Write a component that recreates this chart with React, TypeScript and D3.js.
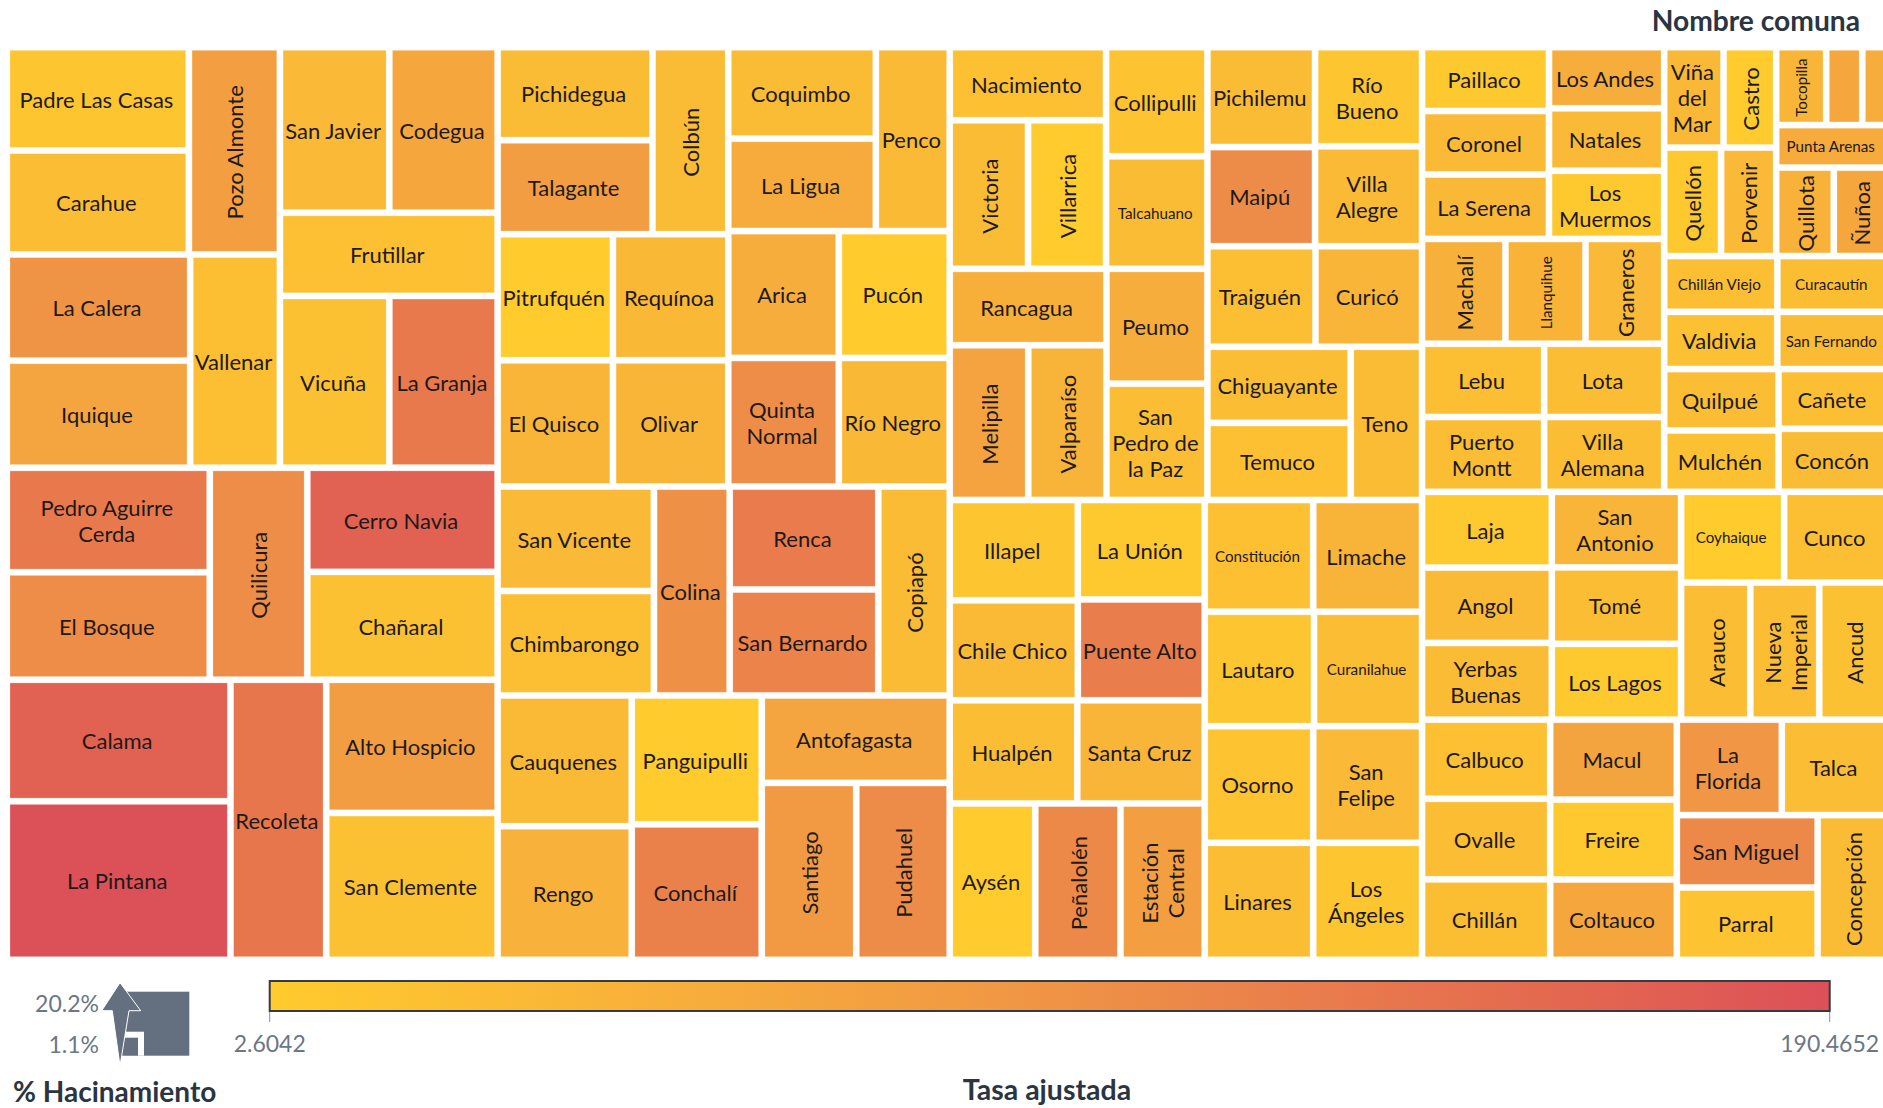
import React, { useMemo } from "react";
import * as d3 from "d3";

// Comunas, in reading order of the treemap
const comunas = [
  "Padre Las Casas","Carahue","Pozo Almonte","La Calera","Iquique","Vallenar","San Javier","Codegua","Frutillar","Vicuña","La Granja",
  "Pedro Aguirre Cerda","El Bosque","Quilicura","Cerro Navia","Chañaral","Calama","La Pintana","Recoleta","Alto Hospicio","San Clemente",
  "Pichidegua","Talagante","Colbún","Pitrufquén","Requínoa","El Quisco","Olivar","Coquimbo","La Ligua","Penco","Arica","Pucón","Quinta Normal","Río Negro",
  "San Vicente","Chimbarongo","Colina","Renca","San Bernardo","Copiapó","Cauquenes","Rengo","Panguipulli","Conchalí","Antofagasta","Santiago","Pudahuel",
  "Nacimiento","Victoria","Villarrica","Collipulli","Talcahuano","Rancagua","Melipilla","Valparaíso","Peumo","San Pedro de la Paz","Pichilemu","Maipú","Río Bueno","Villa Alegre","Traiguén","Curicó","Chiguayante","Temuco","Teno",
  "Illapel","Chile Chico","La Unión","Puente Alto","Hualpén","Santa Cruz","Aysén","Peñalolén","Estación Central","Constitución","Limache","Lautaro","Curanilahue","Osorno","San Felipe","Linares","Los Ángeles",
  "Paillaco","Coronel","La Serena","Los Andes","Natales","Los Muermos","Machalí","Llanquihue","Graneros","Lebu","Lota","Puerto Montt","Villa Alemana",
  "Viña del Mar","Castro","Quellón","Porvenir","Tocopilla","Sin etiqueta 1","Sin etiqueta 2","Punta Arenas","Quillota","Ñuñoa","Chillán Viejo","Curacautín","Valdivia","San Fernando","Quilpué","Mulchén","Cañete","Concón",
  "Laja","Angol","Yerbas Buenas","San Antonio","Tomé","Los Lagos","Coyhaique","Cunco","Arauco","Nueva Imperial","Ancud",
  "Calbuco","Ovalle","Chillán","Macul","Freire","Coltauco","La Florida","Talca","San Miguel","Parral","Concepción",
];

// Size of each comuna (relative units)
const tamano = [
  187.8,188.9,188.4,194.3,196.0,191.1,180.7,179.0,180.9,187.6,185.8,
  211.7,217.8,206.3,197.9,205.0,271.2,354.0,267.7,227.9,251.4,
  143.8,145.3,141.4,145.2,145.2,145.3,145.3,134.8,136.2,135.6,140.0,140.5,141.9,142.4,
  163.0,163.0,158.0,152.7,157.2,149.0,175.0,179.0,167.2,175.9,164.1,166.9,165.1,
  114.1,116.1,115.7,110.4,113.8,119.5,121.3,120.8,115.7,117.2,107.4,106.6,105.9,106.7,108.5,107.0,108.9,110.3,109.1,
  128.3,127.8,126.0,127.7,131.3,131.3,133.5,133.1,131.5,121.0,121.4,124.9,123.4,126.3,126.7,126.7,127.2,
  80.9,80.4,81.7,70.3,71.8,78.4,87.2,83.8,82.3,89.3,87.8,91.2,89.7,
  59.5,52.8,61.6,59.7,38.9,28.1,20.1,47.5,50.9,48.0,63.0,61.7,64.6,63.3,70.1,70.1,65.4,69.0,
  98.1,97.6,99.4,97.4,98.7,97.8,93.3,94.2,94.7,94.3,94.3,
  101.2,103.0,103.0,101.1,101.1,101.6,100.0,101.3,101.7,101.7,101.9,
];

// Tasa ajustada of each comuna
const tasa = [
  12.0,27.0,77.8,96.6,68.4,23.3,34.5,64.6,21.4,19.5,134.1,
  134.1,106.0,106.0,168.0,19.5,168.0,190.5,137.9,81.5,19.5,
  31.0,81.5,31.0,2.6,36.4,40.2,40.2,31.0,59.0,32.7,55.2,2.6,106.0,36.4,
  34.5,23.3,100.3,130.4,119.1,31.0,32.7,47.7,2.6,122.9,68.4,87.2,107.8,
  21.4,31.0,2.6,16.0,29.0,51.5,72.1,43.9,55.2,27.0,28.9,107.8,12.0,32.7,23.3,40.2,27.0,21.4,28.9,
  12.0,32.7,6.4,126.6,27.0,40.2,2.6,111.6,77.8,21.4,43.9,12.0,27.0,16.0,34.5,27.0,12.0,
  6.4,32.7,36.4,55.2,34.5,8.2,49.6,42.1,34.5,23.3,27.0,27.0,27.0,
  36.4,2.6,8.2,34.5,40.2,64.6,55.2,59.0,45.8,64.6,23.3,25.1,19.5,31.0,27.0,19.5,23.3,28.9,
  6.4,32.7,28.9,40.2,27.0,6.4,2.6,23.3,27.0,27.0,19.5,
  21.4,27.0,25.1,70.2,8.2,64.6,92.8,27.0,111.6,16.0,29.0,
];

// Nesting of the treemap: each level alternates columns and rows
const agrupacion = [
  [
    [
      [[["Padre Las Casas","Carahue"],"Pozo Almonte"],[["La Calera","Iquique"],"Vallenar"]],
      [["San Javier","Codegua"],"Frutillar",["Vicuña","La Granja"]],
    ],
    [["Pedro Aguirre Cerda","El Bosque"],"Quilicura",["Cerro Navia","Chañaral"]],
    [["Calama","La Pintana"],"Recoleta",["Alto Hospicio","San Clemente"]],
  ],
  [
    [
      [[["Pichidegua","Talagante"],"Colbún"],["Pitrufquén","Requínoa"],["El Quisco","Olivar"]],
      [[["Coquimbo","La Ligua"],"Penco"],["Arica","Pucón"],["Quinta Normal","Río Negro"]],
    ],
    [["San Vicente","Chimbarongo"],"Colina",["Renca","San Bernardo"],"Copiapó"],
    [["Cauquenes","Rengo"],["Panguipulli","Conchalí"],["Antofagasta",["Santiago","Pudahuel"]]],
  ],
  [
    [
      [
        [["Nacimiento",["Victoria","Villarrica"]],["Collipulli","Talcahuano"]],
        [["Rancagua",["Melipilla","Valparaíso"]],["Peumo","San Pedro de la Paz"]],
      ],
      [
        [["Pichilemu","Maipú"],["Río Bueno","Villa Alegre"]],
        ["Traiguén","Curicó"],
        [["Chiguayante","Temuco"],"Teno"],
      ],
    ],
    [
      [
        [["Illapel","Chile Chico"],["La Unión","Puente Alto"]],
        ["Hualpén","Santa Cruz"],
        ["Aysén","Peñalolén","Estación Central"],
      ],
      [["Constitución","Limache"],["Lautaro","Curanilahue"],["Osorno","San Felipe"],["Linares","Los Ángeles"]],
    ],
  ],
  [
    [
      [
        [["Paillaco","Coronel","La Serena"],["Los Andes","Natales","Los Muermos"]],
        ["Machalí","Llanquihue","Graneros"],
        ["Lebu","Lota"],
        ["Puerto Montt","Villa Alemana"],
      ],
      [
        [
          [["Viña del Mar","Castro"],["Quellón","Porvenir"]],
          [["Tocopilla","Sin etiqueta 1","Sin etiqueta 2"],"Punta Arenas",["Quillota","Ñuñoa"]],
        ],
        ["Chillán Viejo","Curacautín"],
        ["Valdivia","San Fernando"],
        [["Quilpué","Mulchén"],["Cañete","Concón"]],
      ],
    ],
    [
      ["Laja","Angol","Yerbas Buenas"],
      ["San Antonio","Tomé","Los Lagos"],
      [["Coyhaique","Cunco"],["Arauco","Nueva Imperial","Ancud"]],
    ],
    [
      ["Calbuco","Ovalle","Chillán"],
      ["Macul","Freire","Coltauco"],
      [["La Florida","Talca"],[["San Miguel","Parral"],"Concepción"]],
    ],
  ],
];

// Label presentation
const etiquetasVerticales = ["Pozo Almonte","Quilicura","Colbún","Copiapó","Santiago","Pudahuel","Victoria","Villarrica","Melipilla","Valparaíso","Peñalolén","Estación Central","Machalí","Llanquihue","Graneros","Castro","Quellón","Porvenir","Tocopilla","Quillota","Ñuñoa","Arauco","Nueva Imperial","Ancud","Concepción"];
const etiquetasPequenas = ["Talcahuano","Constitución","Curanilahue","Llanquihue","Tocopilla","Punta Arenas","Chillán Viejo","Curacautín","San Fernando","Coyhaique"];
const etiquetasOcultas = ["Sin etiqueta 1","Sin etiqueta 2"];
const saltosDeLinea: Record<string, string[]> = {
  "Pedro Aguirre Cerda": ["Pedro Aguirre","Cerda"],
  "Quinta Normal": ["Quinta","Normal"],
  "Río Bueno": ["Río","Bueno"],
  "Villa Alegre": ["Villa","Alegre"],
  "San Pedro de la Paz": ["San","Pedro de","la Paz"],
  "Los Ángeles": ["Los","Ángeles"],
  "San Felipe": ["San","Felipe"],
  "Los Muermos": ["Los","Muermos"],
  "Puerto Montt": ["Puerto","Montt"],
  "Villa Alemana": ["Villa","Alemana"],
  "San Antonio": ["San","Antonio"],
  "Yerbas Buenas": ["Yerbas","Buenas"],
  "La Florida": ["La","Florida"],
  "Viña del Mar": ["Viña","del","Mar"],
  "Estación Central": ["Estación","Central"],
  "Nueva Imperial": ["Nueva","Imperial"],
};

// Colour legend
const dominioTasa = [2.6042, 190.4652];
const etiquetasTasa = ["2.6042", "190.4652"];
const etiquetasHacinamiento = ["20.2%", "1.1%"];
const coloresPaso = ["#ffcb2d", "#fab936", "#f5a73e", "#ef9445", "#e97d4c", "#e36750", "#dc5058"];

const FONT = "Lato, 'Open Sans', sans-serif";

export default function App() {
  const W = 1875, H = 906.4, GAP = 6.3, LEFT = 10, TOP = 50.3;

  const color = useMemo(() => {
    const [a, b] = dominioTasa;
    return d3
      .scaleLinear<string>()
      .domain(coloresPaso.map((_, i) => a + ((b - a) * i) / (coloresPaso.length - 1)))
      .range(coloresPaso)
      .clamp(true);
  }, []);

  const leaves = useMemo(() => {
    const size = new Map(comunas.map((c, i) => [c, tamano[i]]));
    const root = d3
      .hierarchy<any>(agrupacion, (d) => (Array.isArray(d) ? d : null))
      .sum((d) => (typeof d === "string" ? size.get(d) ?? 0 : 0));
    d3
      .treemap<any>()
      .size([W, H])
      .paddingInner(GAP)
      .round(false)
      .tile((node, x0, y0, x1, y1) =>
        (node.depth % 2 === 0 ? d3.treemapDice : d3.treemapSlice)(node as any, x0, y0, x1, y1)
      )(root);
    return root.leaves() as any[];
  }, []);

  const tasaPor = new Map(comunas.map((c, i) => [c, tasa[i]]));
  const xLeyenda = d3.scaleLinear().domain(dominioTasa).range([269.7, 1829.7]);

  return (
    <svg
      width={1883}
      height={1108}
      viewBox="0 0 1883 1108"
      style={{ position: "absolute", left: 0, top: 0, background: "#fff" }}
      fontFamily={FONT}
    >
      <defs>
        <linearGradient id="rampa" x1="0" x2="1" y1="0" y2="0">
          {coloresPaso.map((c, i) => (
            <stop key={i} offset={i / (coloresPaso.length - 1)} stopColor={c} />
          ))}
        </linearGradient>
      </defs>

      <text x={1860} y={31} textAnchor="end" fontSize={28.2} fontWeight={700} fill="#2b3541">
        Nombre comuna
      </text>

      <g transform={`translate(${LEFT},${TOP})`}>
        {leaves.map((n) => {
          const name = n.data as string;
          const w = n.x1 - n.x0;
          const h = n.y1 - n.y0;
          const cx = (n.x0 + n.x1) / 2;
          const cy = (n.y0 + n.y1) / 2;
          const vertical = etiquetasVerticales.includes(name);
          const small = etiquetasPequenas.includes(name);
          const lines = saltosDeLinea[name] ?? [name];
          const lh = 26;
          const fs = small ? 15.2 : 22;
          const start = -((lines.length - 1) * lh) / 2;
          return (
            <g key={name}>
              <rect
                x={n.x0}
                y={n.y0}
                width={w}
                height={h}
                fill={color(tasaPor.get(name) as number)}
                stroke="#fff"
                strokeOpacity={0.3}
                strokeWidth={0.8}
              />
              {!etiquetasOcultas.includes(name) && (
                <g transform={`translate(${cx},${cy}) rotate(${vertical ? -90 : 0}) translate(-1.5,0)`}>
                  <text textAnchor="middle" fontSize={fs} fill="#1d1a17">
                    {lines.map((l, i) => (
                      <tspan key={i} x={0} y={start + i * lh} dy="0.4em">
                        {l}
                      </tspan>
                    ))}
                  </text>
                </g>
              )}
            </g>
          );
        })}
      </g>

      {/* % Hacinamiento legend */}
      <g>
        <rect x={125.3} y={991.7} width={64} height={64} fill="#64707f" />
        <rect x={118} y={1031.7} width={26} height={24} fill="#fff" />
        <rect x={120} y={1037.7} width={18} height={18} fill="#64707f" />
        <path
          d="M120,982.7 L140.7,1010.7 L129,1010.7 L120,1066 L112.3,1010.7 L101.7,1010.7 Z"
          fill="#64707f"
          stroke="#fff"
          strokeWidth={1}
        />
        <text x={99} y={1012} textAnchor="end" fontSize={23} fill="#6b7686">{etiquetasHacinamiento[0]}</text>
        <text x={99} y={1053} textAnchor="end" fontSize={23} fill="#6b7686">{etiquetasHacinamiento[1]}</text>
        <text x={13} y={1102} fontSize={28} fontWeight={700} fill="#2b3541">% Hacinamiento</text>
      </g>

      {/* Tasa ajustada legend */}
      <g>
        {dominioTasa.map((v) => (
          <line key={v} x1={xLeyenda(v)} x2={xLeyenda(v)} y1={1010} y2={1022} stroke="#8a8f96" strokeWidth={1} />
        ))}
        <rect
          x={xLeyenda(dominioTasa[0])}
          y={981}
          width={xLeyenda(dominioTasa[1]) - xLeyenda(dominioTasa[0])}
          height={30}
          fill="url(#rampa)"
          stroke="#343b44"
          strokeWidth={2}
        />
        {dominioTasa.map((v, i) => (
          <text key={v} x={xLeyenda(v)} y={1052} textAnchor="middle" fontSize={23} fill="#6b7686">
            {etiquetasTasa[i]}
          </text>
        ))}
        <text x={1047} y={1100} textAnchor="middle" fontSize={28.5} fontWeight={700} fill="#2b3541">Tasa ajustada</text>
      </g>
    </svg>
  );
}
